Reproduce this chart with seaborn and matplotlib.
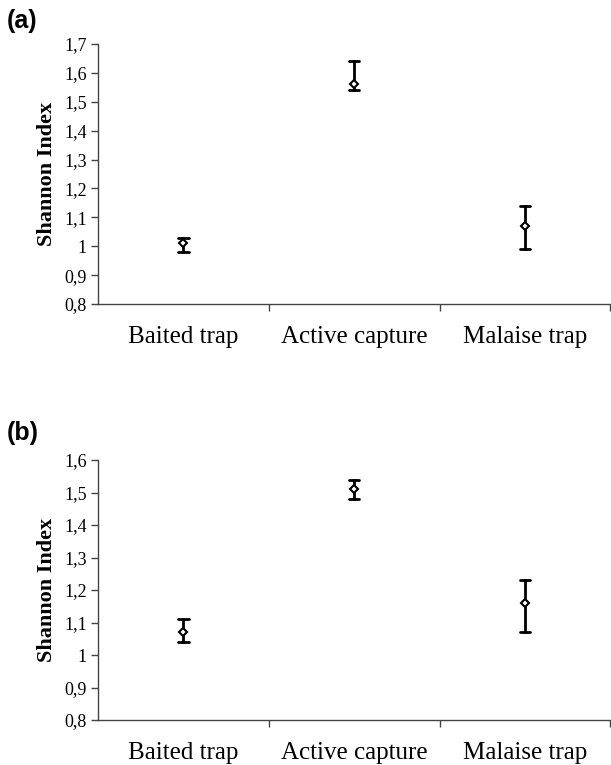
import matplotlib
matplotlib.use("Agg")
import matplotlib.pyplot as plt
import seaborn as sns
import pandas as pd
from matplotlib.ticker import FixedLocator

categories = ["Baited trap", "Active capture", "Malaise trap"]

# panel (a)
a_mean = [1.01, 1.56, 1.07]
a_low = [0.98, 1.54, 0.99]
a_high = [1.03, 1.64, 1.14]
a_ticks = [0.8, 0.9, 1.0, 1.1, 1.2, 1.3, 1.4, 1.5, 1.6, 1.7]
a_ticklabels = ["0,8", "0,9", "1", "1,1", "1,2", "1,3", "1,4", "1,5", "1,6", "1,7"]

# panel (b)
b_mean = [1.07, 1.51, 1.16]
b_low = [1.04, 1.48, 1.07]
b_high = [1.11, 1.54, 1.23]
b_ticks = [0.8, 0.9, 1.0, 1.1, 1.2, 1.3, 1.4, 1.5, 1.6]
b_ticklabels = ["0,8", "0,9", "1", "1,1", "1,2", "1,3", "1,4", "1,5", "1,6"]

ylabel = "Shannon Index"
panel_labels = ["(a)", "(b)"]

sns.set_theme(style="white")
plt.rcParams["font.family"] = ["Liberation Serif", "DejaVu Serif"]
plt.rcParams["text.color"] = "black"
plt.rcParams["axes.labelcolor"] = "black"
plt.rcParams["xtick.color"] = "black"
plt.rcParams["ytick.color"] = "black"

fig = plt.figure(figsize=(6.11, 7.65), dpi=100)
W, H = 611, 765


def make_axes(top_px, bottom_px):
    return fig.add_axes([98 / W, 1 - bottom_px / H, 1 - 98 / W - 0.001, (bottom_px - top_px) / H])


def draw(ax, mean, low, high, ticks, ticklabels):
    rows = []
    for c, m, lo, hi in zip(categories, mean, low, high):
        for v in (lo, m, hi):
            rows.append({"cat": c, "val": v})
    df = pd.DataFrame(rows)
    sns.pointplot(data=df, x="cat", y="val", order=categories, estimator="median",
                  errorbar=("pi", 100), color="black", linestyle="none",
                  markers="D", markersize=4, capsize=0.06,
                  err_kws={"linewidth": 2.0}, ax=ax)
    for ln in ax.lines:
        if ln.get_marker() == "D":
            ln.set_markerfacecolor("white")
            ln.set_markeredgecolor("black")
            ln.set_markeredgewidth(1.5)
            ln.set_zorder(5)
    ax.set_xlim(-0.5, 2.5)
    ax.set_ylim(ticks[0], ticks[-1])
    ax.set_yticks(ticks)
    ax.set_yticklabels(ticklabels, fontsize=13, color="black")
    ax.set_xticks(range(len(categories)))
    ax.set_xticklabels(categories, fontsize=18, color="black")
    ax.xaxis.set_minor_locator(FixedLocator([0.5, 1.5, 2.5]))
    ax.tick_params(axis="x", which="major", length=0, pad=16)
    ax.tick_params(axis="x", which="minor", length=5, width=1, color="#444", direction="out", bottom=True)
    ax.tick_params(axis="y", which="major", length=5, width=1, color="#444", direction="out", left=True, pad=3)
    ax.set_xlabel("")
    ax.set_ylabel(ylabel, fontsize=16, fontweight="bold", labelpad=5, color="black")
    for s in ("top", "right"):
        ax.spines[s].set_visible(False)
    for s in ("left", "bottom"):
        ax.spines[s].set_color("#444")
        ax.spines[s].set_linewidth(1.0)
    ax.set_facecolor("white")


ax1 = make_axes(44, 304)
draw(ax1, a_mean, a_low, a_high, a_ticks, a_ticklabels)
ax2 = make_axes(460, 720)
draw(ax2, b_mean, b_low, b_high, b_ticks, b_ticklabels)

fig.text(7 / W, 1 - 21 / H, panel_labels[0], fontsize=18, fontweight="bold", color="black",
         family=["Liberation Sans", "DejaVu Sans"], va="center", ha="left")
fig.text(7 / W, 1 - 433 / H, panel_labels[1], fontsize=18, fontweight="bold", color="black",
         family=["Liberation Sans", "DejaVu Sans"], va="center", ha="left")

fig.savefig("out.png", dpi=100, facecolor="white")
